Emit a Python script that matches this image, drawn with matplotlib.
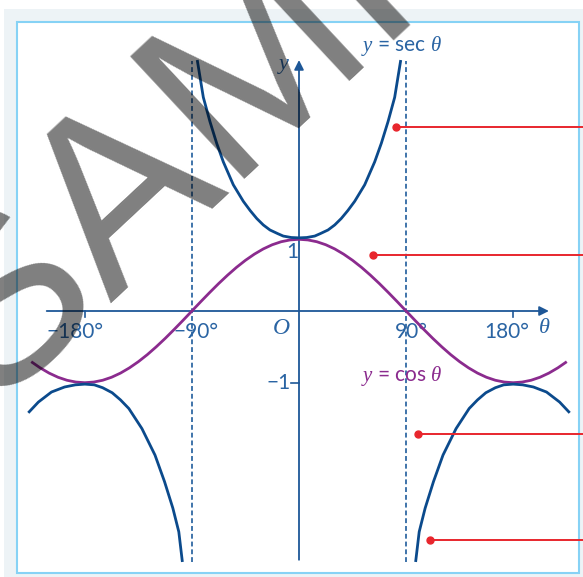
import matplotlib
matplotlib.use("Agg")
import matplotlib.pyplot as plt
from matplotlib.patches import Rectangle

# ---------------- data ----------------
cos_theta = [-225, -217.5, -210, -202.5, -195, -187.5, -180, -172.5, -165, -157.5, -150,
             -142.5, -135, -127.5, -120, -112.5, -105, -97.5, -90, -82.5, -75, -67.5, -60,
             -52.5, -45, -37.5, -30, -22.5, -15, -7.5, 0, 7.5, 15, 22.5, 30, 37.5, 45, 52.5,
             60, 67.5, 75, 82.5, 90, 97.5, 105, 112.5, 120, 127.5, 135, 142.5, 150, 157.5,
             165, 172.5, 180, 187.5, 195, 202.5, 210, 217.5, 225]
cos_vals = [-0.707, -0.793, -0.866, -0.924, -0.966, -0.991, -1.0, -0.991, -0.966, -0.924, -0.866,
            -0.793, -0.707, -0.609, -0.5, -0.383, -0.259, -0.131, 0.0, 0.131, 0.259, 0.383, 0.5,
            0.609, 0.707, 0.793, 0.866, 0.924, 0.966, 0.991, 1.0, 0.991, 0.966, 0.924, 0.866,
            0.793, 0.707, 0.609, 0.5, 0.383, 0.259, 0.131, 0.0, -0.131, -0.259, -0.383, -0.5,
            -0.609, -0.707, -0.793, -0.866, -0.924, -0.966, -0.991, -1.0, -0.991, -0.966, -0.924,
            -0.866, -0.793, -0.707]

# middle branch of sec
sec_mid_theta = [-85.5, -80.4, -74.8, -69.2, -63.6, -55.2, -46.8, -41, -35.5, -30, -24.4, -18,
                 -13.2, -6.5, 0, 6.5, 13.2, 18, 24.4, 30, 35.5, 41, 46.8, 55.2, 63.6, 69.2, 74.8,
                 80.4, 85.5]
sec_mid_vals = [3.50, 2.98, 2.64, 2.34, 2.08, 1.76, 1.53, 1.40, 1.29, 1.20, 1.13, 1.08,
                1.045, 1.025, 1.02, 1.025, 1.045, 1.08, 1.13, 1.20, 1.29, 1.40, 1.53, 1.76, 2.08,
                2.34, 2.64, 2.98, 3.50]

# left outer branch of sec
sec_left_theta = [-227.5, -219, -208, -197, -188, -180, -172, -165, -157, -150, -143, -132, -121,
                  -113, -106, -101, -98]
sec_left_vals = [-1.42, -1.27, -1.13, -1.06, -1.03, -1.02, -1.03, -1.07, -1.14, -1.24, -1.36, -1.64,
                 -2.01, -2.38, -2.75, -3.08, -3.50]

# right outer branch of sec
sec_right_theta = [98, 101, 106, 113, 121, 132, 143, 150, 157, 165, 172, 180, 188, 197, 208, 219, 227.5]
sec_right_vals = [-3.50, -3.08, -2.75, -2.38, -2.01, -1.64, -1.36, -1.24, -1.14, -1.07, -1.03, -1.02,
                  -1.03, -1.06, -1.13, -1.27, -1.42]

asymptotes = [-90, 90]
x_tick_vals = [-180, -90, 90, 180]
x_tick_labels = ["\u2212180\u00b0", "\u221290\u00b0", "90\u00b0", "180\u00b0"]
y_tick_vals = [1, -1]
y_tick_labels = ["1", "\u22121"]

# red pointer lines (start point of each)
pointer_theta = [81.5, 62.2, 99.7, 109.8]
pointer_vals = [2.56, 0.78, -1.71, -3.20]

# ---------------- figure ----------------
W, H = 583, 577
fig = plt.figure(figsize=(W / 100, H / 100), dpi=100)
fig.patch.set_facecolor("white")

plt.rcParams["mathtext.fontset"] = "custom"
plt.rcParams["mathtext.it"] = "Liberation Serif:italic"
plt.rcParams["mathtext.rm"] = "Liberation Serif"


def fx(px):
    return px / W


def fy(py):
    return 1 - py / H


# outer grey band and framed white panel
fig.patches.append(Rectangle((fx(4), fy(577)), fx(583) - fx(4), fy(9) - fy(577),
                             transform=fig.transFigure, facecolor="#edf3f6", edgecolor="none", zorder=0))
fig.patches.append(Rectangle((fx(16.5), fy(572.5)), fx(579) - fx(16.5), fy(22) - fy(572.5),
                             transform=fig.transFigure, facecolor="white", edgecolor="#86d2f5",
                             linewidth=1.5, zorder=0.5))

ax = fig.add_axes([0, 0, 1, 1])
ax.set_zorder(2)
ax.patch.set_alpha(0)
ax.set_xlim((0 - 299) / 1.19, (583 - 299) / 1.19)
ax.set_ylim((311 - 577) / 71.7, 311 / 71.7)
ax.axis("off")

axis_col = "#1e5797"
label_col = "#2a64a3"
sec_col = "#0b4a8c"
cos_col = "#8b2b8e"
dash_col = "#3f74aa"
red = "#e8262d"

# asymptotes
for a in asymptotes:
    ax.plot([a, a], [-3.50, 3.48], color=dash_col, lw=1.4, ls=(0, (2.5, 1.5)), zorder=2)

# axes with arrows
ax.annotate("", xy=(210, 0), xytext=(-212, 0),
            arrowprops=dict(arrowstyle="-|>", color=axis_col, lw=1.3, mutation_scale=14,
                            shrinkA=0, shrinkB=0), zorder=3)
ax.annotate("", xy=(0, 3.50), xytext=(0, -3.47),
            arrowprops=dict(arrowstyle="-|>", color=axis_col, lw=1.3, mutation_scale=14,
                            shrinkA=0, shrinkB=0), zorder=3)

# ticks
for t in [-180, 180]:
    ax.plot([t, t], [0.0, -0.08], color=axis_col, lw=1.2, zorder=3)
ax.plot([-7, 0], [-1, -1], color=axis_col, lw=1.2, zorder=3)

# curves
ax.plot(cos_theta, cos_vals, color=cos_col, lw=2.0, zorder=4, solid_capstyle="butt")
ax.plot(sec_mid_theta, sec_mid_vals, color=sec_col, lw=2.0, zorder=5, solid_capstyle="butt")
ax.plot(sec_left_theta, sec_left_vals, color=sec_col, lw=2.0, zorder=5, solid_capstyle="butt")
ax.plot(sec_right_theta, sec_right_vals, color=sec_col, lw=2.0, zorder=5, solid_capstyle="butt")

# labels
lab_font = dict(family=["Lato", "DejaVu Sans"], fontweight="normal")
label_x_off = [-8.5, 3.5, 4.5, -5.5]
for v, s, off in zip(x_tick_vals, x_tick_labels, label_x_off):
    ax.text(v + off, -0.29, s, color=label_col, fontsize=15, ha="center", va="center", **lab_font)
ax.text(-5.5, 0.82, y_tick_labels[0], color=label_col, fontsize=15, ha="center", va="center", **lab_font)
ax.text(-17.5, -1.0, y_tick_labels[1], color=label_col, fontsize=15, ha="center", va="center", **lab_font)
ax.text(-14.5, -0.24, "O", color=label_col, fontsize=17, ha="center", va="center",
        family="Liberation Serif", style="italic")
ax.text(206, -0.22, r"$\theta$", color=label_col, fontsize=16, ha="center", va="center")
ax.text(-12.5, 3.42, r"$y$", color=label_col, fontsize=16, ha="center", va="center")
ax.text((401 - 299) / 1.19, (311 - 46) / 71.7, r"$y$ = sec $\theta$", color=label_col, fontsize=15,
        ha="center", va="center", **lab_font)
ax.text((402 - 299) / 1.19, (311 - 376) / 71.7, r"$y$ = cos $\theta$", color=cos_col, fontsize=15,
        ha="center", va="center", **lab_font)

# red pointer lines
x_right = (583 - 299) / 1.19
for t, v in zip(pointer_theta, pointer_vals):
    ax.plot([t, x_right], [v, v], color=red, lw=1.4, zorder=6, clip_on=False)
    ax.plot([t], [v], marker="o", ms=5, color=red, zorder=6, clip_on=False)

# watermark
fig.text(fx(352), fy(68), "SAMPLE", fontsize=176, family="Liberation Sans",
         color="black", alpha=0.5, rotation=43, rotation_mode="anchor", ha="center", va="baseline",
         zorder=20)

fig.savefig("out.png", dpi=100)
